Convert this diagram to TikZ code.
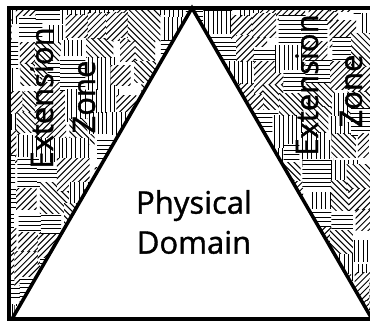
\documentclass[tikz,border=0pt]{standalone}
\usepackage{fontspec}
\setmainfont[FakeBold=1.2]{Open Sans}
\usetikzlibrary{positioning}
\begin{document}
\begin{tikzpicture}[x=1pt,y=-1pt]
    \tikzstyle{hatch}=[line width=1pt]
    \tikzstyle{edge}=[line width=3.5pt, line join=miter]
    \tikzstyle{label}=[font=\fontsize{31}{40}\selectfont, inner sep=0pt]
    \useasboundingbox (0,0) rectangle (370,323);
    % Extension zone texture
    \begin{scope}
      \clip (9,8) -- (192,8) -- (12,319) -- (9,319) -- cycle
            (192,8) -- (380,8) -- (380,319) -- (372,319) -- cycle;
      \pgfmathsetseed{11}
      \foreach \i in {0,...,16} {
        \foreach \j in {0,...,14} {
          \pgfmathsetmacro{\cx}{\i*24+rnd*12}
          \pgfmathsetmacro{\cy}{\j*24+rnd*12}
          \pgfmathsetmacro{\hs}{10+rnd*7}
          \pgfmathsetmacro{\ang}{45*floor(rnd*4)}
          \begin{scope}[shift={(\cx,\cy)}]
            \clip (-\hs,-\hs) rectangle (\hs,\hs);
            \fill[white] (-\hs,-\hs) rectangle (\hs,\hs);
            \begin{scope}[rotate=\ang]
              \foreach \k in {-6,...,6}
                \draw[hatch] (-26,\k*4.4) -- (26,\k*4.4);
            \end{scope}
          \end{scope}
        }
      }
    \end{scope}
    % Frame and domain
    \draw[edge] (380,8) -- (9,8) -- (9,319) -- (380,319);
    \draw[edge] (12,319) -- (192,8) -- (372,319);
    % Labels
    \node[label, rotate=90, anchor=base] (extL) at (53,98) {Extension};
    \node[label, rotate=90, anchor=base] (zoneL) at (95,97) {Zone};
    \node[label, rotate=90, anchor=base] (extR) at (318,85) {Extension};
    \node[label, rotate=90, anchor=base] (zoneR) at (362,91) {Zone};
    \node[label, align=center] (phys) at (194,222) {Physical\\Domain};
\end{tikzpicture}
\end{document}
